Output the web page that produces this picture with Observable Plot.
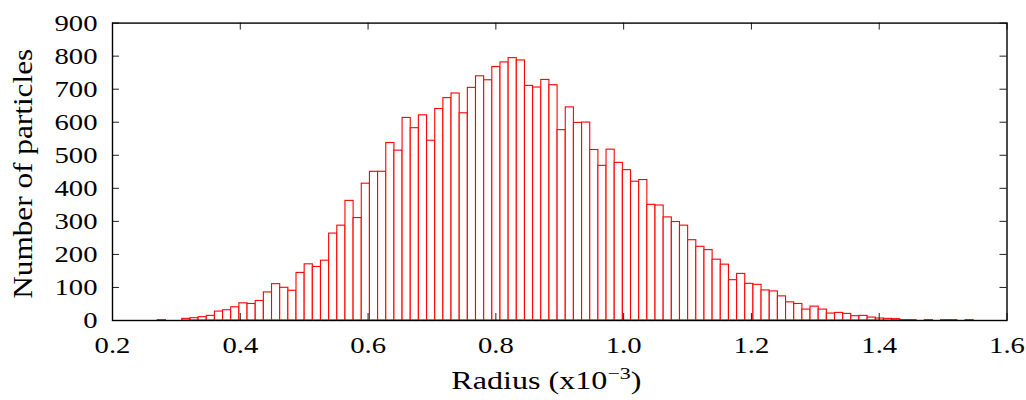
<!DOCTYPE html>
<html><head><meta charset="utf-8">
<script src="https://cdn.jsdelivr.net/npm/d3@7"></script>
<script src="https://cdn.jsdelivr.net/npm/@observablehq/plot@0.6"></script>
<style>body{margin:0;background:#fff}</style>
</head><body><div id="chart"></div>
<script>
// Histogram data: 100 bins of equal width starting at binStart
const binStart = 0.2709;
const binWidth = 0.01277;
const counts = [
  1, 0, 0, 5, 7, 10, 14, 27, 31, 40,
  52, 50, 59, 85, 110, 99, 90, 144, 170, 162,
  181, 263, 287, 362, 310, 414, 450, 450, 537, 514,
  613, 582, 621, 544, 640, 673, 687, 627, 704, 739,
  727, 767, 781, 794, 787, 710, 705, 728, 712, 576,
  645, 598, 599, 516, 468, 517, 477, 455, 420, 425,
  350, 348, 312, 298, 287, 243, 223, 213, 184, 169,
  122, 141, 111, 108, 91, 88, 73, 55, 50, 33,
  42, 33, 21, 23, 20, 13, 14, 9, 6, 5,
  4, 1, 1, 0, 1, 0, 1, 1, 0, 1
];
const xTicks = [0.2, 0.4, 0.6, 0.8, 1.0, 1.2, 1.4, 1.6];
const xTickLabels = ["0.2", "0.4", "0.6", "0.8", "1.0", "1.2", "1.4", "1.6"];
const yTicks = [0, 100, 200, 300, 400, 500, 600, 700, 800, 900];
const yTickLabels = ["0", "100", "200", "300", "400", "500", "600", "700", "800", "900"];
const xLabelParts = ["Radius (x10", "\u22123", ")"];
const yLabel = "Number of particles";

const bins = counts.map((c, i) => ({x1: binStart + i * binWidth, x2: binStart + (i + 1) * binWidth, count: c}))
  .filter(d => d.count > 0);

const W = 1026, H = 400, mt = 22.6, mb = 80, ml = 112, mr = 19.5;
const ph = H - mt - mb, pw = W - ml - mr, tk = 7;

const plot = Plot.plot({
  width: W, height: H,
  marginTop: mt, marginBottom: mb, marginLeft: ml, marginRight: mr,
  style: {fontFamily: "'Liberation Serif', serif", fontSize: "24px", background: "white", color: "black"},
  x: {domain: [0.2, 1.6]},
  y: {domain: [0, 900]},
  marks: [
    Plot.rectY(bins, {x1: "x1", x2: "x2", y: "count", fill: "white", stroke: "#ff0000", strokeWidth: 1.1}),
    Plot.tickX(xTicks, {x: d => d, insetTop: ph - tk, stroke: "#222", strokeWidth: 1}),
    Plot.tickX(xTicks, {x: d => d, insetBottom: ph - tk, stroke: "#222", strokeWidth: 1}),
    Plot.tickY(yTicks, {y: d => d, insetRight: pw - tk, stroke: "#222", strokeWidth: 1}),
    Plot.tickY(yTicks, {y: d => d, insetLeft: pw - tk, stroke: "#222", strokeWidth: 1}),
    Plot.frame({stroke: "black", strokeWidth: 1.4}),
    Plot.axisX(xTicks, {tickSize: 0, tickPadding: 15, tickFormat: d => xTickLabels[xTicks.indexOf(d)], label: null}),
    Plot.axisY(yTicks, {tickSize: 0, tickPadding: 15, tickFormat: d => yTickLabels[yTicks.indexOf(d)], label: null}),
    Plot.text([xLabelParts.join("")], {text: d => d, frameAnchor: "bottom", textAnchor: "middle", dx: -13.4, dy: 68.3, lineAnchor: "bottom", fontSize: 25}),
    Plot.text([yLabel], {text: d => d, frameAnchor: "left", textAnchor: "middle", dx: -80.3, dy: 2, rotate: -90, lineAnchor: "bottom", fontSize: 27})
  ]
});
document.getElementById("chart").append(plot);

// widen texts along their own direction, like the reference rendering
function fitLength(el, len) {
  el.setAttribute("textLength", len);
  el.setAttribute("lengthAdjust", "spacingAndGlyphs");
}
const svg = d3.select(plot);
const tickTexts = svg.selectAll('g[aria-label="x-axis tick label"] text, g[aria-label="y-axis tick label"] text').nodes();
const ref = tickTexts.find(n => n.textContent === "900");
const sTick = ref ? 43 / ref.getComputedTextLength() : 1.2;
tickTexts.forEach(n => fitLength(n, n.getComputedTextLength() * sTick));

svg.selectAll("text").each(function() {
  const el = this;
  if (el.textContent === xLabelParts.join("")) {
    el.textContent = "";
    const s = d3.select(el);
    s.append("tspan").text(xLabelParts[0]);
    s.append("tspan").attr("dy", -10).attr("font-size", 17).text(xLabelParts[1]);
    s.append("tspan").attr("dy", 10).text(xLabelParts[2]);
    fitLength(el, 190);
  } else if (el.textContent === yLabel) {
    fitLength(el, 250);
  }
});
</script>
</body></html>
